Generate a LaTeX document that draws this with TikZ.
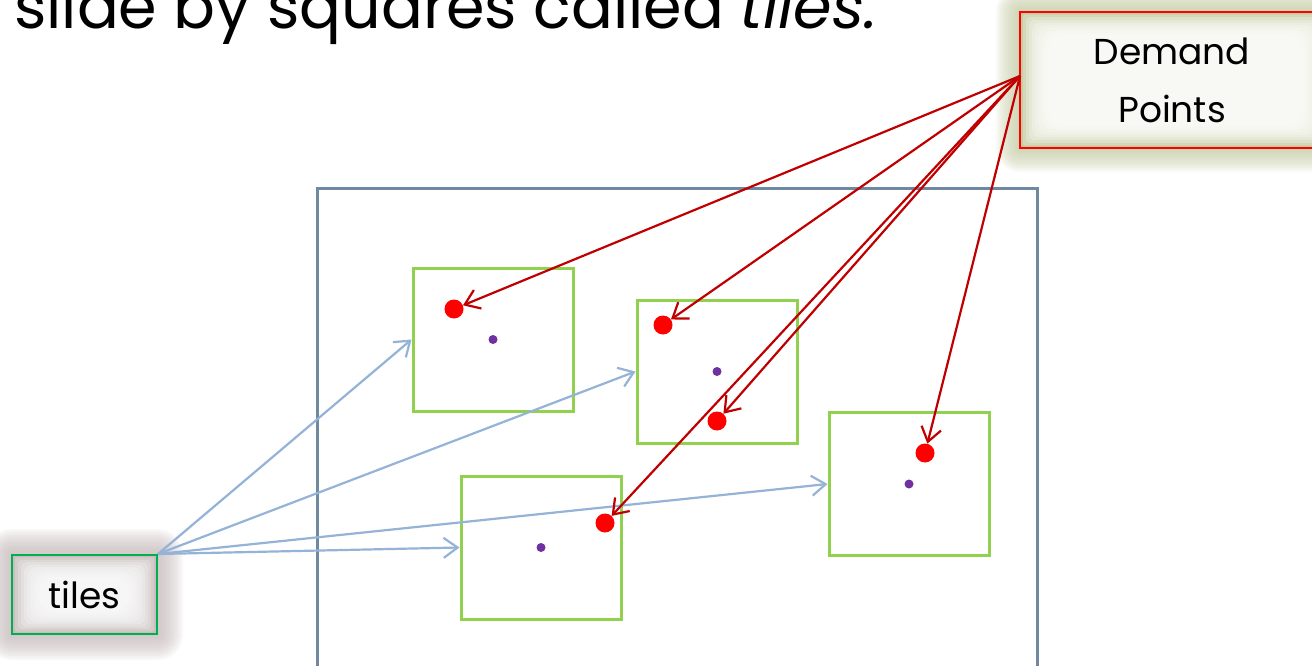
\documentclass[tikz,border=0pt]{standalone}
\usepackage{fontspec}
\setmainfont{Poppins}
\usetikzlibrary{arrows.meta}

\definecolor{framegray}{HTML}{6F89A1}
\definecolor{tilegreen}{HTML}{92D050}
\definecolor{linkred}{HTML}{C00000}
\definecolor{linkblue}{HTML}{95B3D7}
\definecolor{centerdot}{HTML}{7030A0}
\definecolor{tilesglow}{HTML}{C9BDBD}
\definecolor{demandglow}{HTML}{C6CDA4}
\definecolor{boxgreen}{HTML}{00B050}

\begin{document}
\begin{tikzpicture}[x=1pt,y=-1pt,
  tilebox/.style={draw=tilegreen, line width=3pt, minimum width=160pt,
    minimum height=143pt, inner sep=0pt},
  reddot/.style={circle, fill=red, minimum size=19pt, inner sep=0pt},
  middot/.style={circle, fill=centerdot, minimum size=9pt, inner sep=0pt},
  redlink/.style={draw=linkred, line width=2.2pt,
    -{Straight Barb[length=14pt,width=20pt,line width=2.2pt]}},
  bluelink/.style={draw=linkblue, line width=2.2pt,
    -{Straight Barb[length=14pt,width=20pt,line width=2.2pt]}},
  labeltext/.style={font=\fontsize{36}{58}\selectfont, text=black}]

\useasboundingbox (0,0) rectangle (1312,666);
\fill[white] (0,0) rectangle (1312,666);

% heading line, partly above the top edge
\node[anchor=base west, inner sep=0pt, font=\fontsize{62}{70}\selectfont]
  (heading) at (14,29) {slide by squares called \textit{tiles.}};

% soft glow around the "tiles" label box
\foreach \k in {1,...,13}
  \fill[tilesglow, opacity=0.1, rounded corners=\k*2pt]
    (12-\k*2, 555-\k*2) rectangle (157+\k*2, 634+\k*2);
\fill[tilesglow] (12,555) rectangle (157,634);
\foreach \k in {1,...,9}
  \fill[white, opacity=0.22, rounded corners=\k*2pt]
    (12+\k*3, 555+\k*2.4) rectangle (157-\k*3, 634-\k*2.4);

% soft glow around the "Demand Points" label box
\foreach \k in {1,...,12}
  \fill[demandglow, opacity=0.1, rounded corners=\k*2pt]
    (1020-\k*2, 12-\k*2) rectangle (1330+\k*2, 148+\k*2);
\fill[demandglow] (1020,12) rectangle (1330,148);
\foreach \k in {1,...,9}
  \fill[white, opacity=0.24, rounded corners=\k*2pt]
    (1020+\k*3, 12+\k*2.6) rectangle (1330-\k*3, 148-\k*2.6);

% outer region
\draw[framegray, line width=3pt] (317,680) -- (317,188) -- (1037,188) -- (1037,680);

% tiles
\node[tilebox] (t1) at (493,339.5) {};
\node[tilebox] (t2) at (717,371.5) {};
\node[tilebox] (t3) at (541,547.5) {};
\node[tilebox] (t4) at (909,484) {};

% tile centres
\node[middot] (c1) at (t1.center) {};
\node[middot] (c2) at (t2.center) {};
\node[middot] (c3) at (t3.center) {};
\node[middot] (c4) at (t4.center) {};

% demand points
\node[reddot] (d1) at (454,309) {};
\node[reddot] (d2) at (663,325) {};
\node[reddot] (d3) at (717,421) {};
\node[reddot] (d4) at (605,523) {};
\node[reddot] (d5) at (925,453) {};

% label boxes
\node[draw=boxgreen, line width=2pt, minimum width=145pt, minimum height=79pt,
  inner sep=0pt, labeltext] (tiles) at (84.5,594.5) {tiles};
\node[draw=red, line width=2pt, minimum width=304pt, minimum height=136pt,
  inner sep=0pt, align=center, labeltext] (demand) at (1172,80) {Demand\\Points};
\coordinate (demandsrc) at (1020,76);

% connectors from the labels
\draw[bluelink] (tiles.north east) -- (t1.west);
\draw[bluelink] (tiles.north east) -- (t2.west);
\draw[bluelink] (tiles.north east) -- (t3.west);
\draw[bluelink] (tiles.north east) -- (t4.west);

\draw[redlink] (demandsrc) -- (d1);
\draw[redlink] (demandsrc) -- (d2);
\draw[redlink] (demandsrc) -- (d3);
\draw[redlink] (demandsrc) -- (d4);
\draw[redlink] (demandsrc) -- (d5);

\end{tikzpicture}
\end{document}
